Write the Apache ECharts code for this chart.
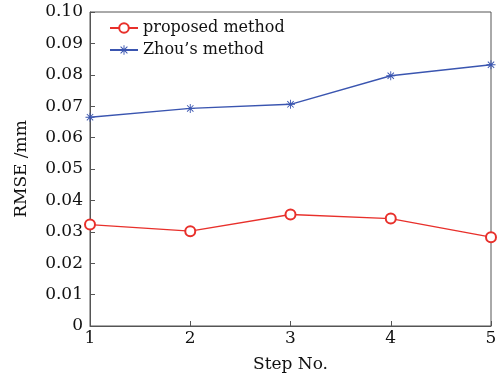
<!DOCTYPE html>
<html>
<head>
<meta charset="utf-8">
<script src="https://cdn.jsdelivr.net/npm/echarts@6/dist/echarts.min.js"></script>
<style>
  html, body { margin: 0; padding: 0; background: #fff; }
  #chart { width: 502px; height: 378px; }
</style>
</head>
<body>
<div id="chart"></div>
<script>
// data
const steps = [1, 2, 3, 4, 5]
const proposed = [0.0323, 0.0302, 0.0355, 0.0342, 0.0283]
const zhou = [0.0665, 0.0693, 0.0706, 0.0797, 0.0832]

// asterisk marker (MATLAB '*')
const star = 'path://M-1,-10L1,-10L1,10L-1,10Z M-10,-1L10,-1L10,1L-10,1Z' +
  ' M-6.36,-7.78L7.78,6.36L6.36,7.78L-7.78,-6.36Z M-7.78,6.36L6.36,-7.78L7.78,-6.36L-6.36,7.78Z'

const font = 'DejaVu Serif'
const chart = echarts.init(document.getElementById('chart'))

chart.setOption({
  animation: false,
  textStyle: { fontFamily: font },
  grid: {
    left: 90,
    right: 11,
    top: 12,
    bottom: 50,
    show: true,
    borderColor: '#555',
    borderWidth: 1
  },
  legend: {
    left: 104,
    top: 15,
    orient: 'vertical',
    itemGap: 6,
    itemWidth: 28,
    itemHeight: 12,
    textStyle: { fontFamily: font, fontSize: 16, color: '#111' },
    data: ['proposed method', 'Zhou\u2019s method']
  },
  xAxis: {
    type: 'value',
    min: 1,
    max: 5,
    interval: 1,
    name: 'Step No.',
    nameLocation: 'middle',
    nameGap: 30,
    nameTextStyle: { fontFamily: font, fontSize: 17, color: '#111' },
    axisLine: { lineStyle: { color: '#555' } },
    axisTick: { inside: true, length: 5, lineStyle: { color: '#555' } },
    axisLabel: { fontSize: 17, color: '#111', margin: 4 },
    splitLine: { show: false }
  },
  yAxis: {
    type: 'value',
    min: 0,
    max: 0.1,
    interval: 0.01,
    name: 'RMSE /mm',
    nameLocation: 'middle',
    nameGap: 60,
    nameTextStyle: { fontFamily: font, fontSize: 17, color: '#111' },
    axisLine: { show: true, lineStyle: { color: '#555' } },
    axisTick: { show: true, inside: true, length: 5, lineStyle: { color: '#555' } },
    axisLabel: {
      fontSize: 17,
      color: '#111',
      margin: 7,
      formatter: v => (v === 0 ? '0' : v.toFixed(2))
    },
    splitLine: { show: false }
  },
  series: [
    {
      name: 'proposed method',
      type: 'line',
      data: steps.map((s, i) => [s, proposed[i]]),
      symbol: 'emptyCircle',
      symbolSize: 10,
      lineStyle: { color: '#e8302b', width: 1.4 },
      itemStyle: { color: '#e8302b', borderWidth: 1.2 }
    },
    {
      name: 'Zhou\u2019s method',
      type: 'line',
      data: steps.map((s, i) => [s, zhou[i]]),
      symbol: star,
      symbolSize: 9,
      lineStyle: { color: '#3a55b0', width: 1.4 },
      itemStyle: { color: '#3a55b0' }
    }
  ]
})
</script>
</body>
</html>
